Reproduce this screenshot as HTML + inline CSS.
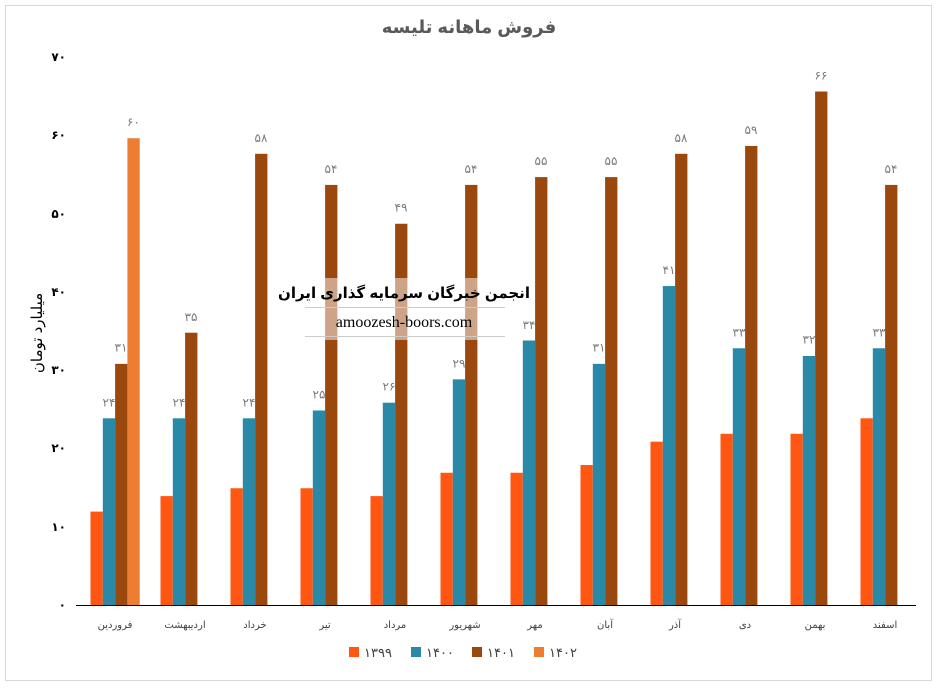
<!DOCTYPE html>
<html><head><meta charset="utf-8"><style>
body{margin:0;background:#fff;}
svg text{font-family:"Liberation Sans","DejaVu Sans",sans-serif;}
</style></head><body>
<svg width="938" height="687" viewBox="0 0 938 687" xmlns="http://www.w3.org/2000/svg">
<rect x="5.5" y="5.5" width="926" height="675" fill="#fff" stroke="#d9d9d9"/>
<text x="469" y="33" text-anchor="middle" font-size="18" font-weight="bold" fill="#595959">فروش ماهانه تلیسه</text>
<g font-size="12" font-weight="bold" fill="#000" text-anchor="end">
<text x="66" y="609">۰</text><text x="66" y="531">۱۰</text><text x="66" y="452">۲۰</text><text x="66" y="374">۳۰</text><text x="66" y="296">۴۰</text><text x="66" y="218">۵۰</text><text x="66" y="139">۶۰</text><text x="66" y="61">۷۰</text>
</g>
<text transform="translate(42,333) rotate(-90)" text-anchor="middle" font-size="15" fill="#000">میلیارد تومان</text>
<line x1="76" y1="605.5" x2="916" y2="605.5" stroke="#000" stroke-width="1"/>
<g transform="translate(0,605) scale(1,0.9936) translate(0,-605)">
<g fill="#ff5611">
<rect x="90.5" y="511" width="12.3" height="94"/>
<rect x="160.5" y="495.4" width="12.3" height="109.6"/>
<rect x="230.5" y="487.5" width="12.3" height="117.5"/>
<rect x="300.5" y="487.5" width="12.3" height="117.5"/>
<rect x="370.5" y="495.4" width="12.3" height="109.6"/>
<rect x="440.5" y="471.9" width="12.3" height="133.1"/>
<rect x="510.5" y="471.9" width="12.3" height="133.1"/>
<rect x="580.5" y="464.1" width="12.3" height="140.9"/>
<rect x="650.5" y="440.6" width="12.3" height="164.4"/>
<rect x="720.5" y="432.7" width="12.3" height="172.3"/>
<rect x="790.5" y="432.7" width="12.3" height="172.3"/>
<rect x="860.5" y="417.1" width="12.3" height="187.9"/>
</g>
<g fill="#2a89a7">
<rect x="102.8" y="417.1" width="12.3" height="187.9"/>
<rect x="172.8" y="417.1" width="12.3" height="187.9"/>
<rect x="242.8" y="417.1" width="12.3" height="187.9"/>
<rect x="312.8" y="409.25" width="12.3" height="195.75"/>
<rect x="382.8" y="401.4" width="12.3" height="203.6"/>
<rect x="452.8" y="377.9" width="12.3" height="227.1"/>
<rect x="522.8" y="338.8" width="12.3" height="266.2"/>
<rect x="592.8" y="362.3" width="12.3" height="242.7"/>
<rect x="662.8" y="284" width="12.3" height="321"/>
<rect x="732.8" y="346.6" width="12.3" height="258.4"/>
<rect x="802.8" y="354.4" width="12.3" height="250.6"/>
<rect x="872.8" y="346.6" width="12.3" height="258.4"/>
</g>
<g fill="#9b480f">
<rect x="115.1" y="362.3" width="12.3" height="242.7"/>
<rect x="185.1" y="330.95" width="12.3" height="274.05"/>
<rect x="255.1" y="150.9" width="12.3" height="454.1"/>
<rect x="325.1" y="182.2" width="12.3" height="422.8"/>
<rect x="395.1" y="221.3" width="12.3" height="383.7"/>
<rect x="465.1" y="182.2" width="12.3" height="422.8"/>
<rect x="535.1" y="174.35" width="12.3" height="430.65"/>
<rect x="605.1" y="174.35" width="12.3" height="430.65"/>
<rect x="675.1" y="150.9" width="12.3" height="454.1"/>
<rect x="745.1" y="143" width="12.3" height="462"/>
<rect x="815.1" y="88.2" width="12.3" height="516.8"/>
<rect x="885.1" y="182.2" width="12.3" height="422.8"/>
</g>
<rect x="127.4" y="135.2" width="12.3" height="469.8" fill="#ed7d31"/>
</g>
<g font-size="12" fill="#7a7a7a" text-anchor="middle" transform="translate(0,602) scale(1,0.9936) translate(0,-605)">
<text x="109" y="408">۲۴</text><text x="179" y="408">۲۴</text><text x="249" y="408">۲۴</text><text x="319" y="400">۲۵</text><text x="389" y="392">۲۶</text><text x="459" y="369">۲۹</text><text x="529" y="330">۳۴</text><text x="599" y="353">۳۱</text><text x="669" y="275">۴۱</text><text x="739" y="338">۳۳</text><text x="809" y="345">۳۲</text><text x="879" y="338">۳۳</text>
<text x="121" y="353">۳۱</text><text x="191" y="322">۳۵</text><text x="261" y="142">۵۸</text><text x="331" y="173">۵۴</text><text x="401" y="212">۴۹</text><text x="471" y="173">۵۴</text><text x="541" y="165">۵۵</text><text x="611" y="165">۵۵</text><text x="681" y="142">۵۸</text><text x="751" y="134">۵۹</text><text x="821" y="79">۶۶</text><text x="891" y="173">۵۴</text>
<text x="133.5" y="126">۶۰</text>
</g>
<g font-size="10" fill="#404040" text-anchor="middle">
<text x="115" y="628">فروردین</text><text x="185" y="628">اردیبهشت</text><text x="255" y="628">خرداد</text><text x="325" y="628">تیر</text><text x="395" y="628">مرداد</text><text x="465" y="628">شهریور</text><text x="535" y="628">مهر</text><text x="605" y="628">آبان</text><text x="675" y="628">آذر</text><text x="745" y="628">دی</text><text x="815" y="628">بهمن</text><text x="885" y="628">اسفند</text>
</g>
<g>
<rect x="298" y="278" width="212" height="62" fill="#fff" fill-opacity="0.5"/>
<line x1="305" y1="307.5" x2="505" y2="307.5" stroke="#ccc"/>
<line x1="305" y1="336.5" x2="505" y2="336.5" stroke="#ccc"/>
<text x="404" y="298" text-anchor="middle" font-size="15" font-weight="bold" fill="#000">انجمن خبرگان سرمایه گذاری ایران</text>
<text x="404" y="327" text-anchor="middle" font-size="16" fill="#000" style="font-family:'Liberation Serif',serif">amoozesh-boors.com</text>
</g>
<g font-size="13" fill="#404040">
<rect x="349" y="647" width="10" height="10" fill="#ff5611"/><text x="364" y="657">۱۳۹۹</text>
<rect x="411" y="647" width="10" height="10" fill="#2a89a7"/><text x="426" y="657">۱۴۰۰</text>
<rect x="472" y="647" width="10" height="10" fill="#9b480f"/><text x="487" y="657">۱۴۰۱</text>
<rect x="534" y="647" width="10" height="10" fill="#ed7d31"/><text x="549" y="657">۱۴۰۲</text>
</g>
</svg>
</body></html>
